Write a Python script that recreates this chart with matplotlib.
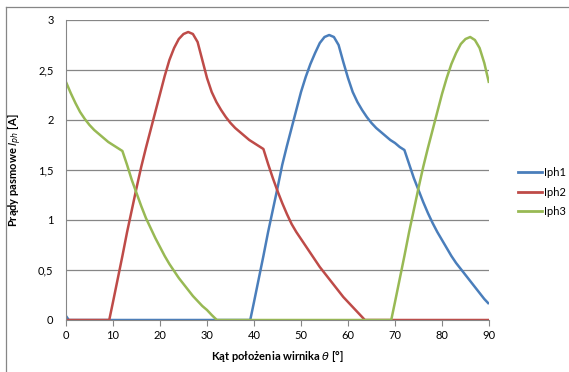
import matplotlib
matplotlib.use('Agg')
import matplotlib.pyplot as plt
from matplotlib.lines import Line2D

# Phase currents vs rotor angle
x1 = [0, 0.6, 39.2, 40, 41, 42, 43, 44, 45, 46, 47, 48, 49, 50, 51, 52, 53, 54, 55,
      56, 57, 58, 59, 60, 61, 62, 63, 64, 65, 66, 67, 68, 69, 70, 71, 72, 73, 74,
      75, 76, 77, 78, 79, 80, 81, 82, 83, 84, 85, 86, 87, 88, 89, 90]
iph1 = [0.04, 0, 0, 0.18, 0.41, 0.64, 0.88, 1.1, 1.32, 1.55, 1.74, 1.92, 2.1, 2.28,
        2.43, 2.56, 2.67, 2.77, 2.83, 2.85, 2.83, 2.75, 2.58, 2.42, 2.28, 2.18, 2.1,
        2.03, 1.97, 1.92, 1.88, 1.84, 1.8, 1.77, 1.73, 1.7, 1.56, 1.42, 1.3, 1.18,
        1.07, 0.97, 0.88, 0.8, 0.72, 0.64, 0.57, 0.51, 0.45, 0.39, 0.33, 0.27,
        0.21, 0.16]

x2 = [0, 9.2, 10, 11, 12, 13, 14, 15, 16, 17, 18, 19, 20, 21, 22, 23, 24, 25, 26,
      27, 28, 29, 30, 31, 32, 33, 34, 35, 36, 37, 38, 39, 40, 41, 42, 43, 44, 45,
      46, 47, 48, 49, 50, 51, 52, 53, 54, 55, 56, 57, 58, 59, 60, 61, 62, 63,
      63.6, 90]
iph2 = [0, 0, 0.18, 0.41, 0.64, 0.88, 1.1, 1.32, 1.53, 1.72, 1.9, 2.08, 2.26, 2.44,
        2.6, 2.72, 2.81, 2.86, 2.88, 2.86, 2.78, 2.6, 2.42, 2.28, 2.18, 2.1, 2.03,
        1.97, 1.92, 1.88, 1.84, 1.8, 1.77, 1.74, 1.71, 1.56, 1.42, 1.29, 1.17,
        1.06, 0.96, 0.88, 0.81, 0.74, 0.67, 0.6, 0.53, 0.47, 0.41, 0.35, 0.29, 0.23,
        0.18, 0.13, 0.08, 0.03, 0, 0]

x3 = [0, 1, 2, 3, 4, 5, 6, 7, 8, 9, 10, 11, 12, 13, 14, 15, 16, 17, 18, 19, 20, 21,
      22, 23, 24, 25, 26, 27, 28, 29, 30, 31, 32.1, 69.2, 70, 71, 72, 73, 74, 75,
      76, 77, 78, 79, 80, 81, 82, 83, 84, 85, 86, 87, 88, 89, 90]
iph3 = [2.38, 2.27, 2.17, 2.08, 2.01, 1.95, 1.9, 1.86, 1.82, 1.78, 1.75, 1.72, 1.69,
        1.55, 1.4, 1.27, 1.14, 1.02, 0.92, 0.82, 0.73, 0.64, 0.56, 0.49, 0.42, 0.36,
        0.3, 0.24, 0.19, 0.14, 0.1, 0.05, 0, 0, 0.18, 0.41, 0.64, 0.88, 1.1, 1.32,
        1.53, 1.72, 1.9, 2.08, 2.26, 2.42, 2.56, 2.67, 2.76, 2.81, 2.83, 2.8, 2.72,
        2.57, 2.37]

yticks = [0, 0.5, 1, 1.5, 2, 2.5, 3]
ytick_labels = ['0', '0,5', '1', '1,5', '2', '2,5', '3']
xticks = [0, 10, 20, 30, 40, 50, 60, 70, 80, 90]

plt.rcParams['font.family'] = ['Lato', 'DejaVu Sans']
plt.rcParams['mathtext.fontset'] = 'dejavusans'

fig = plt.figure(figsize=(5.69, 3.72), dpi=100)
ax = fig.add_axes([66 / 569, 52 / 372, 423 / 569, 300 / 372])

c1, c2, c3 = '#4a7ebb', '#be4b48', '#98b954'
ax.plot(x1, iph1, color=c1, lw=1.8, solid_capstyle='butt', solid_joinstyle='round')
ax.plot(x2, iph2, color=c2, lw=1.8, solid_capstyle='butt', solid_joinstyle='round')
ax.plot(x3, iph3, color=c3, lw=1.8, solid_capstyle='butt', solid_joinstyle='round')

ax.set_xlim(0, 90)
ax.set_ylim(0, 3)
ax.set_xticks(xticks)
ax.set_yticks(yticks)
ax.set_yticklabels(ytick_labels)
ax.yaxis.grid(True, color='#868686', lw=0.9)
ax.set_axisbelow(True)
for s in ['top', 'right']:
    ax.spines[s].set_visible(False)
ax.spines['left'].set_color('#868686')
ax.spines['bottom'].set_color('#868686')
ax.tick_params(axis='x', length=4, color='#868686', labelsize=8, pad=3)
ax.tick_params(axis='y', length=0, labelsize=8, pad=9)

ax.set_xlabel(r'Kąt położenia wirnika $\theta$ [°]', fontsize=8, fontweight='bold', labelpad=6)
ax.set_ylabel(r'Prądy pasmowe $I_{ph}$ [A]', fontsize=8, fontweight='bold', labelpad=10)

handles = [Line2D([], [], color=c, lw=2) for c in (c1, c2, c3)]
fig.legend(handles, ['Iph1', 'Iph2', 'Iph3'], loc='center left',
           bbox_to_anchor=(508 / 569, 1 - 192 / 372), frameon=False,
           fontsize=8, handlelength=2.2, handletextpad=0.1, labelspacing=0.75)

# chart area border
fig.add_artist(Line2D([6 / 569, 6 / 569], [0, 1 - 7 / 372], color='#868686', lw=0.9))
fig.add_artist(Line2D([6 / 569, 1], [1 - 7 / 372, 1 - 7 / 372], color='#868686', lw=0.9))

fig.savefig('out.png', dpi=100)
plt.close(fig)
